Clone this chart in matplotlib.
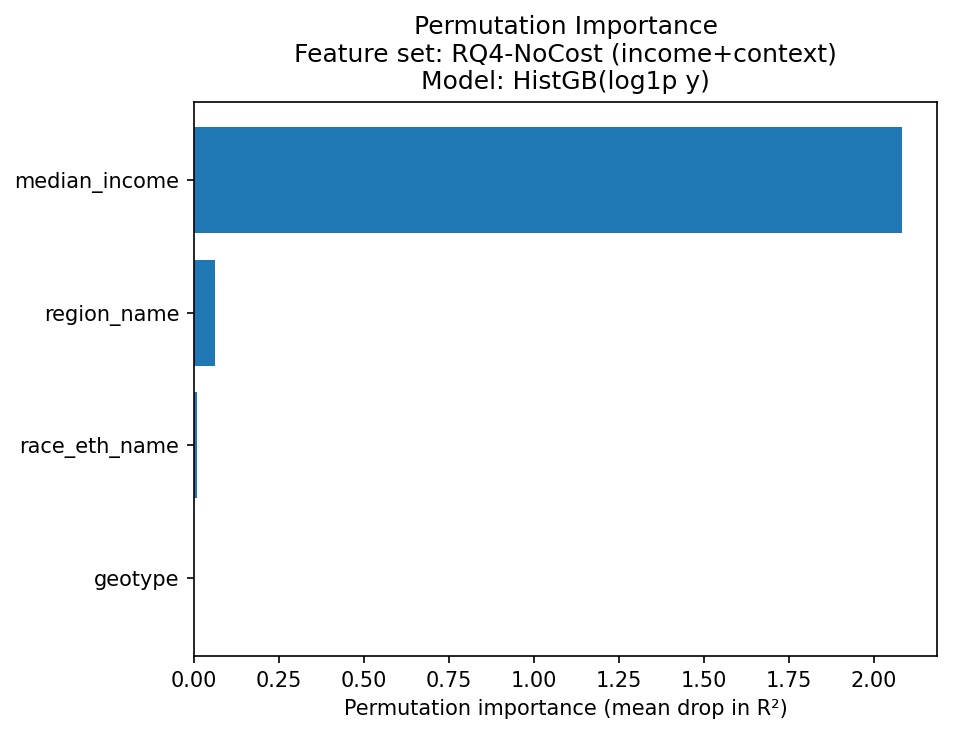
import matplotlib
matplotlib.use("Agg")
import matplotlib.pyplot as plt

# feature importances (top to bottom as shown)
features = ["median_income", "region_name", "race_eth_name", "geotype"]
importance = [2.082, 0.062, 0.009, 0.0005]

fig, ax = plt.subplots(figsize=(953 / 150, 734 / 150), dpi=150)
fig.subplots_adjust(left=194 / 953, right=937 / 953, top=1 - 102 / 734, bottom=1 - 656 / 734)

# barh draws bottom-up, so reverse the order
ax.barh(features[::-1], importance[::-1], color="#1f77b4")
ax.set_xlabel("Permutation importance (mean drop in R²)")
ax.set_title("Permutation Importance\nFeature set: RQ4-NoCost (income+context)\nModel: HistGB(log1p y)")

fig.savefig("out.png", dpi=150)
